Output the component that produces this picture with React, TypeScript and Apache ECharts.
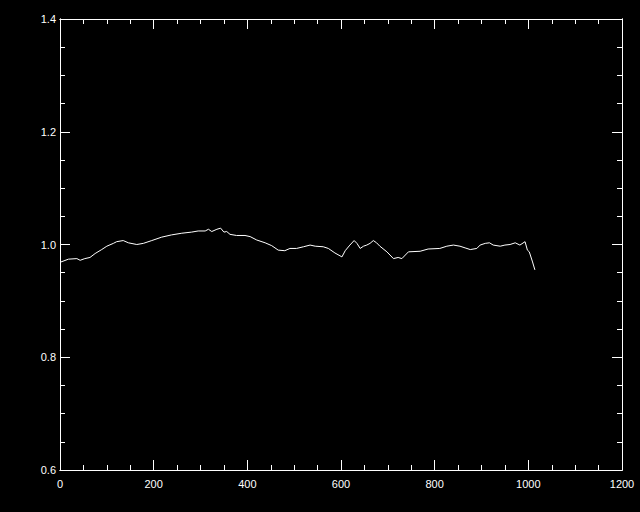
import React, { useEffect, useRef } from "react";
import * as echarts from "echarts";

const xValues = [
  2, 18, 36, 43, 53, 64, 75, 89, 100, 114, 121, 135, 146, 164, 178, 196, 217, 238, 260, 281,
  295, 310, 317, 324, 335, 343, 350, 356, 363, 377, 395, 406, 420, 438, 452, 466, 480, 491,
  505, 520, 534, 545, 562, 573, 587, 602, 609, 619, 628, 634, 641, 648, 655, 662, 669, 676,
  683, 698, 712, 722, 730, 744, 769, 786, 811, 826, 840, 854, 865, 876, 890, 897, 908, 917,
  925, 940, 950, 961, 972, 982, 993, 998, 1002, 1009, 1014,
];
const yValues = [
  0.969, 0.974, 0.975, 0.972, 0.975, 0.977, 0.984, 0.991, 0.997, 1.002, 1.005, 1.007, 1.003,
  1.0, 1.002, 1.007, 1.013, 1.017, 1.02, 1.022, 1.024, 1.024, 1.027, 1.023, 1.027, 1.029,
  1.022, 1.023, 1.018, 1.016, 1.016, 1.014, 1.008, 1.003, 0.998, 0.99, 0.989, 0.993, 0.993,
  0.996, 0.999, 0.997, 0.996, 0.993, 0.985, 0.978, 0.989, 0.999, 1.007, 1.002, 0.993, 0.997,
  0.999, 1.002, 1.007, 1.003, 0.997, 0.987, 0.975, 0.977, 0.975, 0.987, 0.988, 0.992, 0.993,
  0.997, 0.999, 0.997, 0.994, 0.991, 0.993, 0.999, 1.002, 1.003, 0.999, 0.997, 0.999, 1.0,
  1.003, 0.999, 1.005, 0.99, 0.987, 0.969, 0.955,
];
const xTicks = [0, 200, 400, 600, 800, 1000, 1200];
const yTicks = ["0.6", "0.8", "1.0", "1.2", "1.4"];

const FG = "#ffffff";
const FONT = "'Liberation Sans', Arial, sans-serif";

export default function App() {
  const ref = useRef<HTMLDivElement>(null);
  useEffect(() => {
    if (!ref.current) return;
    const chart = echarts.init(ref.current, undefined, { renderer: "svg" });
    const data = xValues.map((x, i) => [x, yValues[i]]);
    const axisLine = { show: true, onZero: false, lineStyle: { color: FG, width: 1 } };
    const tick = (len: number) => ({
      show: true,
      inside: true,
      length: len,
      lineStyle: { color: FG, width: 1 },
    });
    const xMin = xTicks[0];
    const xMax = xTicks[xTicks.length - 1];
    const xStep = xTicks[1] - xTicks[0];
    const yMin = Number(yTicks[0]);
    const yMax = Number(yTicks[yTicks.length - 1]);
    const yStep = 0.2;
    const xAxis = (pos: string, major: boolean, labels: boolean) => ({
      type: "value",
      position: pos,
      min: xMin,
      max: xMax,
      interval: major ? xStep : xStep / 4,
      axisLine,
      axisTick: tick(major ? 10 : 5),
      splitLine: { show: false },
      axisLabel: labels
        ? {
            color: FG,
            fontFamily: FONT,
            fontSize: 11,
            margin: 8,
            formatter: (v: number) => String(v),
          }
        : { show: false },
    });
    const yAxis = (pos: string, major: boolean, labels: boolean) => ({
      type: "value",
      position: pos,
      min: yMin,
      max: yMax,
      interval: major ? yStep : yStep / 4,
      axisLine,
      axisTick: tick(major ? 10 : 5),
      splitLine: { show: false },
      axisLabel: labels
        ? {
            color: FG,
            fontFamily: FONT,
            fontSize: 11,
            margin: 4,
            formatter: (v: number) => v.toFixed(1),
          }
        : { show: false },
    });
    chart.setOption({
      animation: false,
      backgroundColor: "#000000",
      grid: { left: 60, right: 18, top: 19, bottom: 42, containLabel: false },
      xAxis: [
        xAxis("bottom", true, true),
        xAxis("bottom", false, false),
        xAxis("top", true, false),
        xAxis("top", false, false),
      ],
      yAxis: [
        yAxis("left", true, true),
        yAxis("left", false, false),
        yAxis("right", true, false),
        yAxis("right", false, false),
      ],
      series: [
        {
          type: "line",
          data,
          xAxisIndex: 0,
          yAxisIndex: 0,
          showSymbol: false,
          symbol: "none",
          lineStyle: { color: FG, width: 1 },
        },
      ],
    });
    return () => chart.dispose();
  }, []);
  return (
    <div
      ref={ref}
      style={{ position: "fixed", left: 0, top: 0, width: 640, height: 512 }}
    />
  );
}
